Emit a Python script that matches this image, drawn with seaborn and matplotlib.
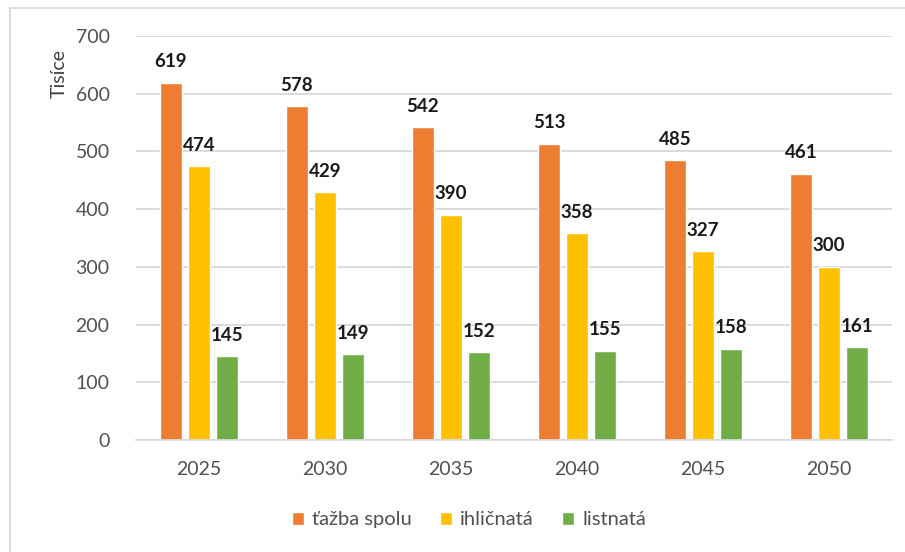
import seaborn as sns
import numpy as np
import matplotlib.pyplot as plt
import pandas as pd
from matplotlib.lines import Line2D

years = ["2025", "2030", "2035", "2040", "2045", "2050"]
series = ["ťažba spolu", "ihličnatá", "listnatá"]
tazba_spolu = [619, 578, 542, 513, 485, 461]
ihlicnata = [474, 429, 390, 358, 327, 300]
listnata = [145, 149, 152, 155, 158, 161]
colors = ["#ED7D31", "#FFC000", "#70AD47"]

df = pd.DataFrame({
    "rok": years * 3,
    "typ": [series[0]] * 6 + [series[1]] * 6 + [series[2]] * 6,
    "hodnota": tazba_spolu + ihlicnata + listnata,
})

sns.set_style("white")
plt.rcParams["font.family"] = ["Lato", "DejaVu Sans"]

fig = plt.figure(figsize=(9.05, 5.52), dpi=100)
ax = fig.add_axes([0.1503, 0.2029, 0.8353, 0.7319])

sns.barplot(data=df, x="rok", y="hodnota", hue="typ", hue_order=series,
            palette=colors, width=0.667, gap=0.2, saturation=1,
            ax=ax, legend=True)

for c in ax.containers:
    ax.bar_label(c, padding=9, fontsize=13.5, fontweight="bold", color="#1a1a1a")

ax.set_ylim(0, 700)
ax.set_xlim(-0.5, 5.5)
ax.set_yticks(range(0, 701, 100))
ax.yaxis.grid(True, color="#d9d9d9", linewidth=1.3)
ax.set_axisbelow(True)
for s in ["top", "right", "left"]:
    ax.spines[s].set_visible(False)
ax.spines["bottom"].set_color("#d9d9d9")
ax.spines["bottom"].set_linewidth(1.3)
ax.tick_params(axis="both", length=0, labelsize=14, colors="#505050")
ax.tick_params(axis="y", pad=19)
ax.tick_params(axis="x", pad=15)
ax.set_xlabel("")
ax.set_ylabel("")

fig.text(0.066, 0.866, "Tisíce", rotation=90, ha="center", va="center",
         fontsize=14, color="#404040")

handles, labels = ax.get_legend_handles_labels()
ax.legend_.remove()
fig.legend(handles, labels, loc="center", bbox_to_anchor=(0.518, 0.058),
           ncol=3, frameon=False, fontsize=14.5, labelcolor="#505050",
           handlelength=0.6, handleheight=0.6, handletextpad=0.4,
           columnspacing=1.4)

# light frame lines at the top and left edge
fig.add_artist(Line2D([0.011, 1.0], [0.986, 0.986], color="#d9d9d9", lw=1.3))
fig.add_artist(Line2D([0.011, 0.011], [0.0, 0.986], color="#d9d9d9", lw=1.3))

fig.savefig("out.png", dpi=100)
